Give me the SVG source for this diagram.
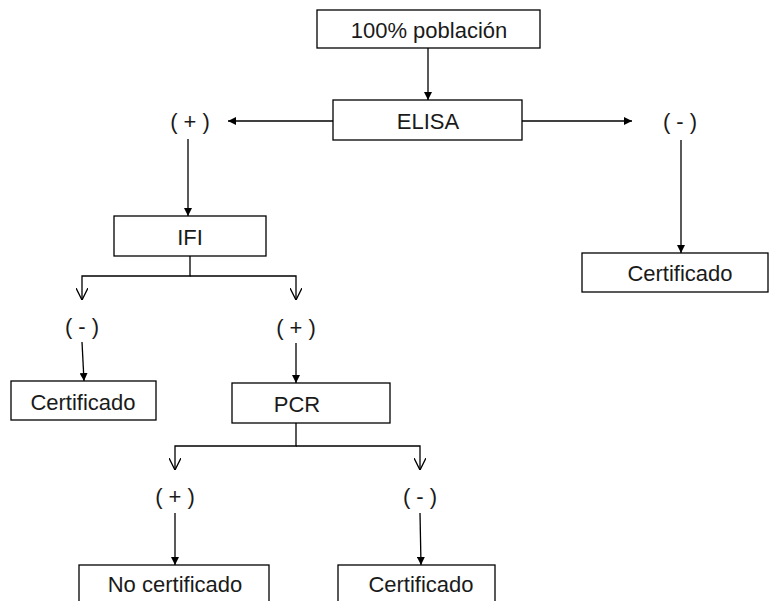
<svg xmlns="http://www.w3.org/2000/svg" width="769" height="601" viewBox="0 0 769 601">
<style>
.box{fill:#fff;stroke:#000;stroke-width:1.3}
.t{font-family:"Liberation Sans",Arial,sans-serif;font-size:22px;fill:#1a1a1a;text-anchor:middle;dominant-baseline:central}
.c{stroke:#000;stroke-width:1.3;fill:none}
</style>
<defs>
<marker id="fa" viewBox="0 0 10 10" refX="10" refY="5" markerWidth="8" markerHeight="8" markerUnits="userSpaceOnUse" orient="auto"><path d="M0,0 L10,5 L0,10 z" fill="#000"/></marker>
<marker id="oa" viewBox="0 0 10 10" refX="10" refY="5" markerWidth="12" markerHeight="12" markerUnits="userSpaceOnUse" orient="auto"><path d="M0,0 L10,5 L0,10" fill="none" stroke="#000" stroke-width="1.1"/></marker>
</defs>
<rect width="769" height="601" fill="#fff"/>
<g id="connectors">
<line class="c" x1="428" y1="48" x2="428" y2="100" marker-end="url(#fa)"/>
<line class="c" x1="333" y1="121" x2="228" y2="121" marker-end="url(#fa)"/>
<line class="c" x1="522" y1="121" x2="632" y2="121" marker-end="url(#fa)"/>
<line class="c" x1="188" y1="139" x2="188" y2="216" marker-end="url(#fa)"/>
<line class="c" x1="681" y1="140" x2="681" y2="253" marker-end="url(#fa)"/>
<polyline class="c" points="190,256 190,276 82,276 82,300" marker-end="url(#oa)"/>
<polyline class="c" points="190,276 296,276 296,300" marker-end="url(#oa)"/>
<line class="c" x1="82" y1="342" x2="84" y2="381" marker-end="url(#fa)"/>
<line class="c" x1="296" y1="343" x2="296" y2="383" marker-end="url(#fa)"/>
<polyline class="c" points="296,423 296,446 175,446 175,470" marker-end="url(#oa)"/>
<polyline class="c" points="296,446 420,446 420,470" marker-end="url(#oa)"/>
<line class="c" x1="175" y1="513" x2="175" y2="565" marker-end="url(#fa)"/>
<line class="c" x1="420" y1="513" x2="421" y2="565" marker-end="url(#fa)"/>
</g>
<g id="n_poblacion"><rect class="box" x="317" y="10" width="223" height="38"/><text class="t" x="429" y="30">100% población</text></g>
<g id="n_elisa"><rect class="box" x="333" y="100" width="189" height="40"/><text class="t" x="428" y="121">ELISA</text></g>
<g id="l_elisa_pos"><text class="t" x="190" y="121">( + )</text></g>
<g id="l_elisa_neg"><text class="t" x="680" y="121">( - )</text></g>
<g id="n_ifi"><rect class="box" x="114" y="216" width="152" height="40"/><text class="t" x="190" y="237">IFI</text></g>
<g id="l_ifi_neg"><text class="t" x="82" y="326">( - )</text></g>
<g id="l_ifi_pos"><text class="t" x="296" y="327">( + )</text></g>
<g id="n_cert1"><rect class="box" x="11" y="381" width="145" height="39"/><text class="t" x="83" y="402">Certificado</text></g>
<g id="n_pcr"><rect class="box" x="232" y="383" width="158" height="40"/><text class="t" x="297" y="404">PCR</text></g>
<g id="l_pcr_pos"><text class="t" x="175" y="496">( + )</text></g>
<g id="l_pcr_neg"><text class="t" x="420" y="496">( - )</text></g>
<g id="n_nocert"><rect class="box" x="79" y="565" width="190" height="45"/><text class="t" x="175" y="584">No certificado</text></g>
<g id="n_cert2"><rect class="box" x="338" y="565" width="157" height="45"/><text class="t" x="421" y="584">Certificado</text></g>
<g id="n_cert3"><rect class="box" x="582" y="253" width="186" height="39"/><text class="t" x="680" y="273">Certificado</text></g>
</svg>
